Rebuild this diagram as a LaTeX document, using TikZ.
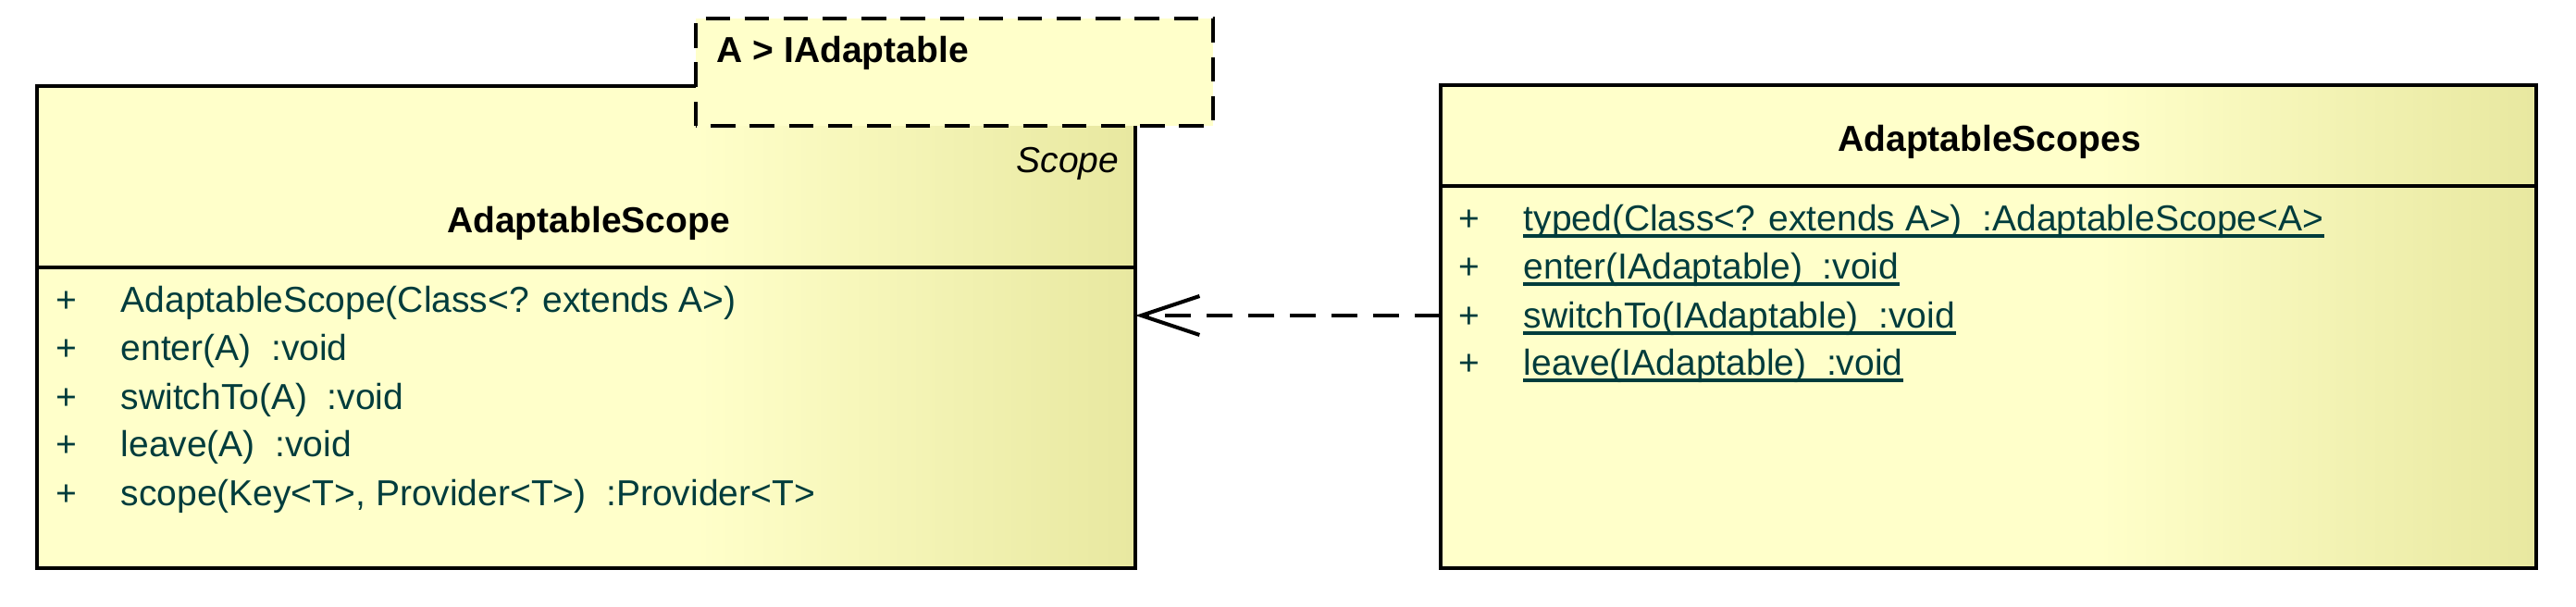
\documentclass[tikz,border=0pt]{standalone}
\usepackage{fontspec}
\setmainfont{Liberation Sans}
\usetikzlibrary{arrows.meta}
\definecolor{umllight}{RGB}{255,255,202}
\definecolor{umldark}{RGB}{232,232,160}
\definecolor{optext}{RGB}{0,60,60}
\pgfdeclarehorizontalshading{classfill}{100bp}{color(0bp)=(umllight); color(25bp)=(umllight); color(55bp)=(umllight); color(75bp)=(umldark); color(100bp)=(umldark)}
\tikzset{
  classbox/.style={draw=black,line width=1.05pt,shading=classfill},
  tplbox/.style={draw=black,fill=umllight,line width=1.05pt,dash pattern=on 7.5pt off 4.5pt},
  title/.style={font=\fontsize{11.1}{13}\selectfont\bfseries,inner sep=0pt},
  op/.style={font=\fontsize{11.1}{13}\selectfont,text=optext,inner sep=0pt,text height=8.2pt,text depth=2.4pt},
  uline/.style={draw=optext,line width=1.1pt},
  dep/.style={line width=1.15pt,dash pattern=on 8pt off 4.8pt,-{Straight Barb[length=6.3mm,width=4.2mm]}}
}
\begin{document}
\begin{tikzpicture}
\useasboundingbox (0,0) rectangle (27.84,6.56);
% AdaptableScope
\path[classbox] (0.40,0.42) rectangle (12.27,5.63);
\draw[line width=1.05pt] (0.40,3.67)--(12.27,3.67);
\path[tplbox] (7.52,5.20) rectangle (13.11,6.36);
\node[title,anchor=west] (tpl) at (7.74,5.99) {A > IAdaptable};
\node[op,text=black,font=\fontsize{11.1}{13}\selectfont\itshape,anchor=east] (stereo) at (12.10,4.80) {Scope};
\node[title] (scope) at (6.36,4.15) {AdaptableScope};
\foreach \y/\t [count=\i] in {3.29/{AdaptableScope(Class<? extends A>)},2.77/{enter(A)\ \ :void},2.24/{switchTo(A)\ \ :void},1.73/{leave(A)\ \ :void},1.20/{scope(Key<T>, Provider<T>)\ \ :Provider<T>}}
{
  \node[op] (lplus\i) at (0.72,\y) {+};
  \node[op,anchor=west] (lop\i) at (1.30,\y) {\t};
}
% AdaptableScopes
\path[classbox] (15.57,0.42) rectangle (27.41,5.64);
\draw[line width=1.05pt] (15.57,4.55)--(27.41,4.55);
\node[title] (scopes) at (21.50,5.03) {AdaptableScopes};
\foreach \y/\t [count=\i] in {4.17/{typed(Class<? extends A>)\ \ :AdaptableScope<A>},3.65/{enter(IAdaptable)\ \ :void},3.12/{switchTo(IAdaptable)\ \ :void},2.61/{leave(IAdaptable)\ \ :void}}
{
  \node[op] (rplus\i) at (15.88,\y) {+};
  \node[op,anchor=west] (rop\i) at (16.46,\y) {\t};
  \path[uline] ([yshift=-1.7pt]rop\i.base west)--([yshift=-1.7pt]rop\i.base east);
}
\coordinate (scopeE) at (12.27,3.15);
\coordinate (scopesW) at (15.57,3.15);
\draw[dep] (scopesW)--(scopeE);
\end{tikzpicture}
\end{document}
